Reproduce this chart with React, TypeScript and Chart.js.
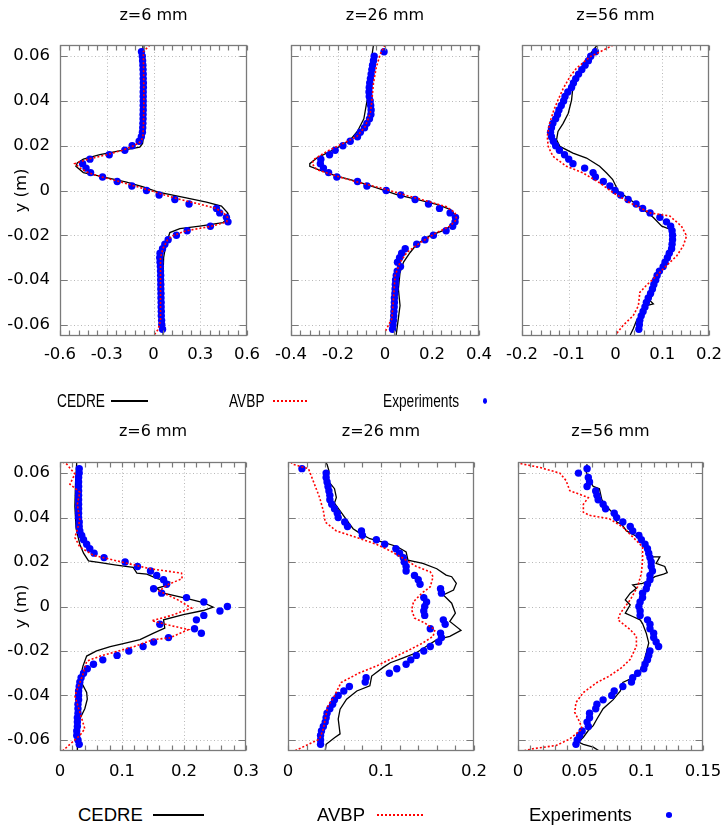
import React, { useEffect, useRef } from "react";
import { Chart, registerables } from "chart.js";

Chart.register(...registerables);

// ---------------- data ----------------
const panelTitles = ["z=6 mm", "z=26 mm", "z=56 mm", "z=6 mm", "z=26 mm", "z=56 mm"];
const seriesNames = ["CEDRE", "AVBP", "Experiments"];
const yAxisLabel = "y (m)";

const yTicks = [-0.06, -0.04, -0.02, 0, 0.02, 0.04, 0.06];
const xTicksT1 = [-0.6, -0.3, 0, 0.3, 0.6];
const xTicksT2 = [-0.4, -0.2, 0, 0.2, 0.4];
const xTicksT3 = [-0.2, -0.1, 0, 0.1, 0.2];
const xTicksB1 = [0, 0.1, 0.2, 0.3];
const xTicksB2 = [0, 0.1, 0.2];
const xTicksB3 = [0, 0.05, 0.1, 0.15];

// experiment probe positions (m)
const yExp = [
  0.062, 0.06, 0.058, 0.056, 0.054, 0.052, 0.05, 0.048, 0.046, 0.044,
  0.042, 0.04, 0.038, 0.036, 0.034, 0.032, 0.03, 0.028, 0.026, 0.024,
  0.022, 0.02, 0.018, 0.016, 0.014, 0.012, 0.01, 0.008, 0.006, 0.004,
  0.002, 0, -0.002, -0.004, -0.006, -0.008, -0.01, -0.012, -0.014, -0.016,
  -0.018, -0.02, -0.022, -0.024, -0.026, -0.028, -0.03, -0.032, -0.034, -0.036,
  -0.038, -0.04, -0.042, -0.044, -0.046, -0.048, -0.05, -0.052, -0.054, -0.056,
  -0.058, -0.06, -0.062,
];

const expT1 = [
  -0.077, -0.072, -0.07, -0.068, -0.067, -0.066, -0.066, -0.065, -0.065, -0.066,
  -0.066, -0.066, -0.066, -0.066, -0.067, -0.067, -0.068, -0.069, -0.071, -0.078,
  -0.092, -0.137, -0.184, -0.284, -0.408, -0.455, -0.433, -0.404, -0.327, -0.233,
  -0.139, -0.045, 0.036, 0.137, 0.228, 0.404, 0.425, 0.468, 0.478, 0.365,
  0.216, 0.147, 0.094, 0.073, 0.058, 0.042, 0.04, 0.042, 0.044, 0.045,
  0.046, 0.046, 0.047, 0.047, 0.048, 0.048, 0.049, 0.049, 0.05, 0.05,
  0.052, 0.053, 0.058,
];
const expT2 = [
  -0.004, -0.046, -0.049, -0.053, -0.056, -0.059, -0.062, -0.065, -0.067, -0.068,
  -0.067, -0.063, -0.061, -0.059, -0.06, -0.066, -0.077, -0.087, -0.105, -0.117,
  -0.148, -0.179, -0.212, -0.236, -0.273, -0.275, -0.262, -0.24, -0.205, -0.117,
  -0.077, 0.005, 0.067, 0.128, 0.185, 0.232, 0.277, 0.3, 0.298, 0.288,
  0.26, 0.206, 0.17, 0.135, 0.086, 0.071, 0.062, 0.053, 0.066, 0.052,
  0.048, 0.045, 0.044, 0.043, 0.042, 0.04, 0.04, 0.039, 0.038, 0.037,
  0.036, 0.034, 0.032,
];
const expT3 = [
  -0.043, -0.053, -0.058, -0.065, -0.072, -0.079, -0.085, -0.09, -0.094, -0.102,
  -0.108, -0.111, -0.116, -0.121, -0.124, -0.128, -0.134, -0.137, -0.139, -0.137,
  -0.133, -0.128, -0.12, -0.109, -0.1, -0.091, -0.066, -0.048, -0.043, -0.026,
  -0.012, -0.001, 0.011, 0.027, 0.044, 0.058, 0.074, 0.095, 0.109, 0.118,
  0.121, 0.122, 0.122, 0.121, 0.12, 0.115, 0.111, 0.106, 0.102, 0.094,
  0.089, 0.086, 0.082, 0.079, 0.075, 0.07, 0.066, 0.063, 0.059, 0.055,
  0.052, 0.051, 0.05,
];
const expB1 = [
  0.031, 0.031, 0.03, 0.03, 0.03, 0.03, 0.03, 0.03, 0.03, 0.03,
  0.03, 0.03, 0.031, 0.031, 0.032, 0.035, 0.038, 0.043, 0.048, 0.055,
  0.071, 0.105, 0.125, 0.146, 0.156, 0.167, 0.172, 0.151, 0.164, 0.204,
  0.232, 0.27, 0.258, 0.232, 0.22, 0.161, 0.217, 0.228, 0.175, 0.151,
  0.134, 0.111, 0.092, 0.069, 0.054, 0.044, 0.038, 0.034, 0.032, 0.031,
  0.03, 0.03, 0.03, 0.029, 0.029, 0.029, 0.028, 0.028, 0.028, 0.027,
  0.027, 0.029, 0.031,
];
const expB2 = [
  0.015, 0.041, 0.041, 0.042, 0.043, 0.044, 0.045, 0.045, 0.047, 0.05,
  0.053, 0.054, 0.061, 0.064, 0.079, 0.08, 0.095, 0.104, 0.116, 0.12,
  0.124, 0.125, 0.127, 0.127, 0.136, 0.14, 0.142, 0.164, 0.165, 0.146,
  0.149, 0.147, 0.146, 0.147, 0.167, 0.169, 0.153, 0.164, 0.165, 0.162,
  0.153, 0.146, 0.138, 0.132, 0.127, 0.117, 0.109, 0.084, 0.083, 0.066,
  0.06, 0.054, 0.05, 0.048, 0.045, 0.042, 0.041, 0.04, 0.038, 0.036,
  0.035, 0.035, 0.035,
];
const expB3 = [
  0.056, 0.049, 0.057, 0.058, 0.056, 0.063, 0.064, 0.065, 0.069, 0.071,
  0.078, 0.08, 0.085, 0.091, 0.093, 0.098, 0.1, 0.103, 0.105, 0.106,
  0.107, 0.108, 0.108, 0.109, 0.107, 0.107, 0.105, 0.104, 0.101, 0.101,
  0.099, 0.098, 0.099, 0.099, 0.105, 0.107, 0.107, 0.11, 0.11, 0.112,
  0.114, 0.107, 0.106, 0.105, 0.103, 0.102, 0.097, 0.093, 0.092, 0.085,
  0.078, 0.076, 0.069, 0.064, 0.063, 0.058, 0.058, 0.056, 0.057, 0.052,
  0.05, 0.048, 0.047,
];

// simulation profiles: [value, y]
const cedreT1 = [
  [-0.068, 0.065], [-0.066, 0.05], [-0.064, 0.04], [-0.063, 0.03], [-0.064, 0.024], [-0.07, 0.021],
  [-0.088, 0.0194], [-0.194, 0.018], [-0.344, 0.016], [-0.45, 0.014], [-0.489, 0.0123], [-0.498, 0.0108],
  [-0.45, 0.008], [-0.344, 0.0064], [-0.173, 0.0037], [-0.066, 0.0016], [0.03, -0.0007], [0.21, -0.0033],
  [0.34, -0.0052], [0.436, -0.007], [0.474, -0.0099], [0.478, -0.012], [0.446, -0.0144], [0.297, -0.0159],
  [0.169, -0.017], [0.105, -0.0188], [0.09, -0.022], [0.075, -0.026], [0.065, -0.03], [0.06, -0.04],
  [0.06, -0.05], [0.062, -0.065],
];
const avbpT1 = [
  [-0.023, 0.065], [-0.065, 0.062], [-0.063, 0.05], [-0.062, 0.04], [-0.064, 0.03], [-0.068, 0.024],
  [-0.08, 0.022], [-0.125, 0.02], [-0.2, 0.018], [-0.3, 0.016], [-0.42, 0.014], [-0.505, 0.012],
  [-0.47, 0.01], [-0.42, 0.008], [-0.33, 0.006], [-0.22, 0.004], [-0.12, 0.002], [-0.02, 0],
  [0.07, -0.002], [0.17, -0.004], [0.29, -0.006], [0.4, -0.008], [0.45, -0.01], [0.475, -0.012],
  [0.47, -0.014], [0.37, -0.016], [0.21, -0.018], [0.13, -0.02], [0.09, -0.022], [0.06, -0.026],
  [0.045, -0.03], [0.045, -0.04], [0.045, -0.05], [0.045, -0.058], [0.03, -0.062], [0, -0.065],
];
const cedreT2 = [
  [-0.049, 0.065], [-0.063, 0.055], [-0.068, 0.045], [-0.08, 0.038], [-0.09, 0.032], [-0.117, 0.0265],
  [-0.148, 0.0226], [-0.18, 0.0204], [-0.233, 0.0175], [-0.29, 0.0145], [-0.32, 0.012], [-0.32, 0.0108],
  [-0.275, 0.009], [-0.205, 0.0064], [-0.12, 0.0041], [-0.035, 0.0012], [0.05, -0.0018], [0.135, -0.004],
  [0.22, -0.0062], [0.277, -0.0084], [0.302, -0.0114], [0.298, -0.0136], [0.262, -0.0173], [0.19, -0.0203],
  [0.135, -0.024], [0.107, -0.0277], [0.079, -0.032], [0.064, -0.0366], [0.057, -0.044], [0.064, -0.0514],
  [0.057, -0.057], [0.047, -0.065],
];
const avbpT2 = [
  [0, 0.065], [-0.02, 0.061], [-0.037, 0.055], [-0.049, 0.048], [-0.056, 0.04], [-0.063, 0.0344],
  [-0.084, 0.0286], [-0.12, 0.0241], [-0.19, 0.0204], [-0.247, 0.0175], [-0.304, 0.0138], [-0.31, 0.012],
  [-0.29, 0.0093], [-0.205, 0.0064], [-0.105, 0.0034], [-0.02, 0.0012], [0.078, -0.0018], [0.178, -0.0047],
  [0.262, -0.0073], [0.298, -0.0099], [0.305, -0.0129], [0.277, -0.0159], [0.22, -0.0188], [0.15, -0.0233],
  [0.093, -0.0277], [0.064, -0.0321], [0.043, -0.038], [0.036, -0.0484], [0.029, -0.0573], [0, -0.0632],
];
const cedreT3 = [
  [-0.039, 0.065], [-0.055, 0.0607], [-0.066, 0.057], [-0.08, 0.0524], [-0.091, 0.0464], [-0.094, 0.0404],
  [-0.101, 0.0345], [-0.112, 0.03], [-0.123, 0.0264], [-0.126, 0.0227], [-0.119, 0.0197], [-0.091, 0.0167],
  [-0.062, 0.0145], [-0.034, 0.0108], [-0.019, 0.0078], [-0.006, 0.0049], [0.006, -0.0003], [0.031, -0.004],
  [0.059, -0.0084], [0.081, -0.0121], [0.099, -0.0159], [0.116, -0.0173], [0.12, -0.0218], [0.116, -0.0277],
  [0.102, -0.0321], [0.088, -0.038], [0.081, -0.0455], [0.074, -0.0492], [0.081, -0.0507], [0.066, -0.0514],
  [0.045, -0.0581], [0.038, -0.0618], [0.031, -0.0648],
];
const avbpT3 = [
  [-0.005, 0.065], [-0.026, 0.0627], [-0.055, 0.0597], [-0.084, 0.0545], [-0.098, 0.0507], [-0.112, 0.0455],
  [-0.123, 0.0404], [-0.132, 0.0359], [-0.141, 0.03], [-0.146, 0.0241], [-0.144, 0.0197], [-0.134, 0.0153],
  [-0.105, 0.0108], [-0.069, 0.0078], [-0.034, 0.0034], [-0.005, -0.001], [0.031, -0.0055], [0.074, -0.01],
  [0.116, -0.0114], [0.141, -0.0159], [0.152, -0.0203], [0.145, -0.0247], [0.131, -0.0292], [0.109, -0.0336],
  [0.088, -0.038], [0.066, -0.0424], [0.052, -0.0455], [0.049, -0.0514], [0.038, -0.0559], [0.016, -0.0603],
  [0.002, -0.064],
];
const cedreB1 = [
  [0.027, 0.065], [0.025, 0.055], [0.024, 0.045], [0.026, 0.035], [0.032, 0.028], [0.038, 0.024],
  [0.046, 0.0205], [0.065, 0.0197], [0.091, 0.0186], [0.118, 0.0176], [0.124, 0.015], [0.14, 0.0146],
  [0.156, 0.0127], [0.177, 0.011], [0.175, 0.0097], [0.156, 0.0082], [0.167, 0.006], [0.204, 0.0037],
  [0.231, 0.0018], [0.247, -0.0003], [0.231, -0.0018], [0.199, -0.0037], [0.167, -0.006], [0.169, -0.0097],
  [0.151, -0.012], [0.129, -0.0149], [0.102, -0.0167], [0.081, -0.018], [0.059, -0.02], [0.043, -0.0223],
  [0.037, -0.0268], [0.032, -0.0328], [0.043, -0.0387], [0.044, -0.0417], [0.04, -0.046], [0.032, -0.0506],
  [0.029, -0.058], [0.028, -0.065],
];
const avbpB1 = [
  [0.004, 0.065], [0.011, 0.064], [0.024, 0.0596], [0.016, 0.055], [0.032, 0.0514], [0.028, 0.046],
  [0.032, 0.0387], [0.024, 0.031], [0.032, 0.0268], [0.054, 0.023], [0.1, 0.02], [0.145, 0.017],
  [0.196, 0.015], [0.197, 0.0125], [0.175, 0.01], [0.16, 0.007], [0.19, 0.003], [0.212, -0.0007],
  [0.18, -0.004], [0.148, -0.0064], [0.17, -0.008], [0.207, -0.0104], [0.177, -0.0141], [0.15, -0.0149],
  [0.12, -0.018], [0.065, -0.0223], [0.043, -0.0246], [0.038, -0.0298], [0.03, -0.0357], [0.024, -0.0402],
  [0.032, -0.0476], [0.04, -0.055], [0.032, -0.058], [0.008, -0.064], [0.004, -0.065],
];
const cedreB2 = [
  [0.04, 0.065], [0.042, 0.064], [0.044, 0.061], [0.043, 0.0566], [0.05, 0.053], [0.052, 0.049],
  [0.05, 0.0465], [0.056, 0.043], [0.063, 0.039], [0.07, 0.035], [0.077, 0.033], [0.088, 0.0305],
  [0.102, 0.029], [0.117, 0.027], [0.127, 0.0246], [0.129, 0.0208], [0.145, 0.0194], [0.16, 0.017],
  [0.17, 0.0141], [0.176, 0.0134], [0.181, 0.0104], [0.178, 0.0074], [0.167, 0.0052], [0.176, 0.0015],
  [0.18, -0.003], [0.174, -0.0067], [0.186, -0.0107], [0.174, -0.0134], [0.16, -0.0149], [0.149, -0.0179],
  [0.138, -0.0208], [0.124, -0.0231], [0.11, -0.0253], [0.102, -0.0275], [0.09, -0.0313], [0.088, -0.0357],
  [0.074, -0.038], [0.063, -0.0417], [0.056, -0.0462], [0.054, -0.0506], [0.056, -0.0573], [0.05, -0.059],
  [0.041, -0.062], [0.04, -0.065],
];
const avbpB2 = [
  [0.003, 0.065], [0.005, 0.064], [0.022, 0.062], [0.027, 0.0566], [0.034, 0.049], [0.038, 0.043],
  [0.04, 0.038], [0.052, 0.034], [0.074, 0.031], [0.095, 0.028], [0.11, 0.025], [0.124, 0.0216],
  [0.138, 0.018], [0.153, 0.0156], [0.156, 0.0134], [0.153, 0.0089], [0.144, 0.006], [0.135, 0.0022],
  [0.133, -0.0015], [0.136, -0.0052], [0.147, -0.0074], [0.158, -0.0104], [0.156, -0.0134], [0.145, -0.0164],
  [0.131, -0.0194], [0.113, -0.0231], [0.095, -0.0268], [0.077, -0.0298], [0.057, -0.0342], [0.05, -0.0402],
  [0.043, -0.0447], [0.04, -0.0506], [0.038, -0.055], [0.034, -0.0596], [0.007, -0.065],
];
const cedreB3 = [
  [0.056, 0.064], [0.055, 0.061], [0.058, 0.057], [0.061, 0.054], [0.066, 0.053], [0.068, 0.048],
  [0.07, 0.046], [0.077, 0.042], [0.08, 0.038], [0.084, 0.037], [0.088, 0.034], [0.096, 0.0316],
  [0.101, 0.029], [0.105, 0.0246], [0.108, 0.0223], [0.115, 0.0223], [0.112, 0.0194], [0.119, 0.018],
  [0.121, 0.0152], [0.118, 0.0146], [0.111, 0.0134], [0.107, 0.0119], [0.101, 0.0104], [0.093, 0.0097],
  [0.096, 0.0082], [0.091, 0.006], [0.087, 0.003], [0.091, 0.0007], [0.087, -0.003], [0.093, -0.0045],
  [0.099, -0.006], [0.101, -0.0077], [0.104, -0.012], [0.106, -0.0164], [0.104, -0.0208], [0.101, -0.0268],
  [0.096, -0.0313], [0.085, -0.0342], [0.083, -0.038], [0.077, -0.042], [0.073, -0.044], [0.069, -0.046],
  [0.064, -0.0506], [0.061, -0.0536], [0.057, -0.0558], [0.053, -0.0588], [0.049, -0.061], [0.053, -0.062],
  [0.061, -0.0633], [0.066, -0.065],
];
const avbpB3 = [
  [0.002, 0.0643], [0.018, 0.0625], [0.034, 0.06], [0.039, 0.0566], [0.042, 0.0521], [0.057, 0.049],
  [0.053, 0.046], [0.053, 0.0424], [0.058, 0.041], [0.074, 0.0395], [0.085, 0.0357], [0.093, 0.0313],
  [0.101, 0.0268], [0.101, 0.0208], [0.1, 0.0149], [0.097, 0.0089], [0.091, 0.003], [0.083, -0.003],
  [0.081, -0.006], [0.091, -0.0104], [0.096, -0.0134], [0.096, -0.0179], [0.091, -0.0238], [0.084, -0.0275],
  [0.074, -0.0313], [0.064, -0.0342], [0.053, -0.0387], [0.047, -0.0432], [0.046, -0.0476], [0.05, -0.052],
  [0.052, -0.055], [0.042, -0.0596], [0.031, -0.0625], [0.012, -0.064], [0.004, -0.065],
];

// ---------------- layout / styles ----------------
const TICK_FAMILY = "'DejaVu Sans', sans-serif";
const LEGEND_FAMILY = "'Liberation Sans', Arial, sans-serif";
const FRAME = "#7a7a7a";

const panels = [
  { title: panelTitles[0], xTicks: xTicksT1, cedre: cedreT1, avbp: avbpT1, exp: expT1, L: 60, R: 247, T: 45, B: 336, titleY: 15, pad: 9, yLabel: true },
  { title: panelTitles[1], xTicks: xTicksT2, cedre: cedreT2, avbp: avbpT2, exp: expT2, L: 291, R: 479, T: 45, B: 336, titleY: 15, pad: 9, yLabel: false },
  { title: panelTitles[2], xTicks: xTicksT3, cedre: cedreT3, avbp: avbpT3, exp: expT3, L: 522, R: 709, T: 45, B: 336, titleY: 15, pad: 9, yLabel: false },
  { title: panelTitles[3], xTicks: xTicksB1, cedre: cedreB1, avbp: avbpB1, exp: expB1, L: 60, R: 246, T: 462, B: 751, titleY: 431, pad: 11, yLabel: true },
  { title: panelTitles[4], xTicks: xTicksB2, cedre: cedreB2, avbp: avbpB2, exp: expB2, L: 288, R: 474, T: 462, B: 751, titleY: 431, pad: 11, yLabel: false },
  { title: panelTitles[5], xTicks: xTicksB3, cedre: cedreB3, avbp: avbpB3, exp: expB3, L: 518, R: 703, T: 462, B: 751, titleY: 431, pad: 11, yLabel: false },
];

const AXIS_W = 60;
const PAD_TOP = 25;
const PAD_RIGHT = 40;
const AXIS_H = 45;

const fmt = (v: number) => String(Number(v.toFixed(4)));

const framePlugin = {
  id: "gnuFrame",
  beforeDatasetsDraw(chart: any) {
    const { ctx, chartArea: a } = chart;
    const xs = chart.scales.x;
    const ys = chart.scales.y;
    ctx.save();
    ctx.strokeStyle = "#b8b8b8";
    ctx.lineWidth = 1;
    ctx.setLineDash([1, 2.5]);
    ctx.beginPath();
    xs.ticks.forEach((t: any) => {
      if (t.value <= xs.min || t.value >= xs.max) return;
      const p = Math.round(xs.getPixelForValue(t.value)) + 0.5;
      ctx.moveTo(p, a.top);
      ctx.lineTo(p, a.bottom);
    });
    ys.ticks.forEach((t: any) => {
      const p = Math.round(ys.getPixelForValue(t.value)) + 0.5;
      ctx.moveTo(a.left, p);
      ctx.lineTo(a.right, p);
    });
    ctx.stroke();
    ctx.restore();
  },
  afterDatasetsDraw(chart: any) {
    const { ctx, chartArea: a } = chart;
    const xs = chart.scales.x;
    const ys = chart.scales.y;
    const l = Math.round(a.left) + 0.5;
    const r = Math.round(a.right) - 0.5;
    const t = Math.round(a.top) + 0.5;
    const b = Math.round(a.bottom) - 0.5;
    ctx.save();
    ctx.strokeStyle = FRAME;
    ctx.lineWidth = 1.2;
    ctx.setLineDash([]);
    ctx.beginPath();
    ys.ticks.forEach((tk: any) => {
      const p = Math.round(ys.getPixelForValue(tk.value)) + 0.5;
      ctx.moveTo(l, p);
      ctx.lineTo(l + 7, p);
      ctx.moveTo(r, p);
      ctx.lineTo(r - 7, p);
    });
    const tv = xs.ticks.map((tk: any) => tk.value);
    const step = (tv[1] - tv[0]) / 5;
    const n = Math.round((xs.max - xs.min) / step);
    for (let i = 0; i <= n; i++) {
      const v = xs.min + i * step;
      const p = Math.round(xs.getPixelForValue(v)) + 0.5;
      ctx.moveTo(p, t);
      ctx.lineTo(p, t + 5);
      ctx.moveTo(p, b);
      ctx.lineTo(p, b - 5);
    }
    ctx.stroke();
    ctx.lineWidth = 1.3;
    ctx.strokeRect(l, t, r - l, b - t);
    ctx.restore();
  },
};

function Panel({ spec }: { spec: any }) {
  const ref = useRef<HTMLCanvasElement>(null);
  const width = spec.R - spec.L + AXIS_W + PAD_RIGHT;
  const height = spec.B - spec.T + PAD_TOP + AXIS_H;

  useEffect(() => {
    const canvas = ref.current;
    if (!canvas) return;
    const xMin = spec.xTicks[0];
    const xMax = spec.xTicks[spec.xTicks.length - 1];
    const chart = new Chart(canvas, {
      type: "scatter",
      data: {
        datasets: [
          {
            label: seriesNames[1],
            data: spec.avbp.map((p: number[]) => ({ x: p[0], y: p[1] })),
            showLine: true,
            borderColor: "#ff0000",
            backgroundColor: "#ff0000",
            borderWidth: 1.6,
            borderDash: [2, 2],
            pointRadius: 0,
            order: 0,
          },
          {
            label: seriesNames[2],
            data: spec.exp.map((v: number, i: number) => ({ x: v, y: yExp[i] })),
            showLine: false,
            pointRadius: 3.7,
            pointBackgroundColor: "#0000ff",
            pointBorderColor: "#0000ff",
            pointBorderWidth: 0,
            order: 1,
          },
          {
            label: seriesNames[0],
            data: spec.cedre.map((p: number[]) => ({ x: p[0], y: p[1] })),
            showLine: true,
            borderColor: "#000000",
            backgroundColor: "#000000",
            borderWidth: 1.3,
            pointRadius: 0,
            order: 2,
          },
        ],
      },
      options: {
        animation: false,
        responsive: false,
        maintainAspectRatio: false,
        devicePixelRatio: 1,
        events: [],
        layout: { padding: { left: 0, top: PAD_TOP, right: PAD_RIGHT, bottom: 0 } },
        plugins: { legend: { display: false }, tooltip: { enabled: false }, title: { display: false } },
        scales: {
          x: {
            type: "linear",
            min: xMin,
            max: xMax,
            grid: { display: false, drawTicks: false },
            border: { display: false },
            afterBuildTicks: (s: any) => {
              s.ticks = spec.xTicks.map((v: number) => ({ value: v }));
            },
            afterFit: (s: any) => {
              s.height = AXIS_H;
            },
            ticks: {
              autoSkip: false,
              maxRotation: 0,
              padding: spec.pad,
              color: "#000",
              font: { family: TICK_FAMILY, size: 16.5 },
              callback: (v: any) => fmt(Number(v)),
            },
          },
          y: {
            type: "linear",
            min: -0.065,
            max: 0.065,
            grid: { display: false, drawTicks: false },
            border: { display: false },
            afterBuildTicks: (s: any) => {
              s.ticks = yTicks.map((v: number) => ({ value: v }));
            },
            afterFit: (s: any) => {
              s.width = AXIS_W;
            },
            title: {
              display: spec.yLabel,
              text: yAxisLabel,
              color: "#000",
              font: { family: TICK_FAMILY, size: 16.5 },
              padding: { top: 12, bottom: 0 },
            },
            ticks: {
              autoSkip: false,
              padding: 10,
              color: "#000",
              font: { family: TICK_FAMILY, size: 16.5 },
              callback: (v: any) => (spec.yLabel ? fmt(Number(v)) : ""),
            },
          },
        },
      },
      plugins: [framePlugin],
    });
    return () => chart.destroy();
  }, [spec]);

  return (
    <>
      <canvas
        ref={ref}
        width={width}
        height={height}
        style={{ position: "absolute", left: spec.L - AXIS_W, top: spec.T - PAD_TOP, width, height }}
      />
      <div
        style={{
          position: "absolute",
          left: spec.L,
          width: spec.R - spec.L,
          top: spec.titleY - 11,
          height: 22,
          lineHeight: "22px",
          textAlign: "center",
          fontFamily: TICK_FAMILY,
          fontSize: 16,
          color: "#000",
          whiteSpace: "nowrap",
        }}
      >
        {spec.title}
      </div>
    </>
  );
}

function LegendRow({ y, sx, items }: { y: number; sx: number; items: any[] }) {
  const txt = (left: number, text: string) => (
    <div
      style={{
        position: "absolute",
        left,
        top: y - 12,
        height: 24,
        lineHeight: "24px",
        fontFamily: LEGEND_FAMILY,
        fontSize: 18.5,
        color: "#000",
        whiteSpace: "nowrap",
        transform: `scaleX(${sx})`,
        transformOrigin: "left center",
      }}
    >
      {text}
    </div>
  );
  return (
    <>
      {txt(items[0].text, seriesNames[0])}
      <div style={{ position: "absolute", left: items[0].s, width: items[0].w, top: y - 0.75, height: 1.5, background: "#000" }} />
      {txt(items[1].text, seriesNames[1])}
      <div
        style={{
          position: "absolute",
          left: items[1].s,
          width: items[1].w,
          top: y - 1,
          height: 2,
          background: "repeating-linear-gradient(to right, #ff0000 0px, #ff0000 2px, transparent 2px, transparent 4px)",
        }}
      />
      {txt(items[2].text, seriesNames[2])}
      <div
        style={{
          position: "absolute",
          left: items[2].s - items[2].w / 2,
          width: items[2].w,
          top: y - 3,
          height: 6,
          borderRadius: "50%",
          background: "#0000ff",
        }}
      />
    </>
  );
}

export default function App() {
  return (
    <div style={{ position: "absolute", left: 0, top: 0, width: 726, height: 832, background: "#fff", overflow: "hidden" }}>
      {panels.map((p, i) => (
        <Panel key={i} spec={p} />
      ))}
      <LegendRow
        y={401}
        sx={0.74}
        items={[
          { text: 57, s: 111, w: 37 },
          { text: 229, s: 273, w: 34 },
          { text: 383, s: 485, w: 4.5 },
        ]}
      />
      <LegendRow
        y={815}
        sx={1}
        items={[
          { text: 78, s: 153, w: 51 },
          { text: 317, s: 377, w: 48 },
          { text: 529, s: 669, w: 6.5 },
        ]}
      />
    </div>
  );
}
